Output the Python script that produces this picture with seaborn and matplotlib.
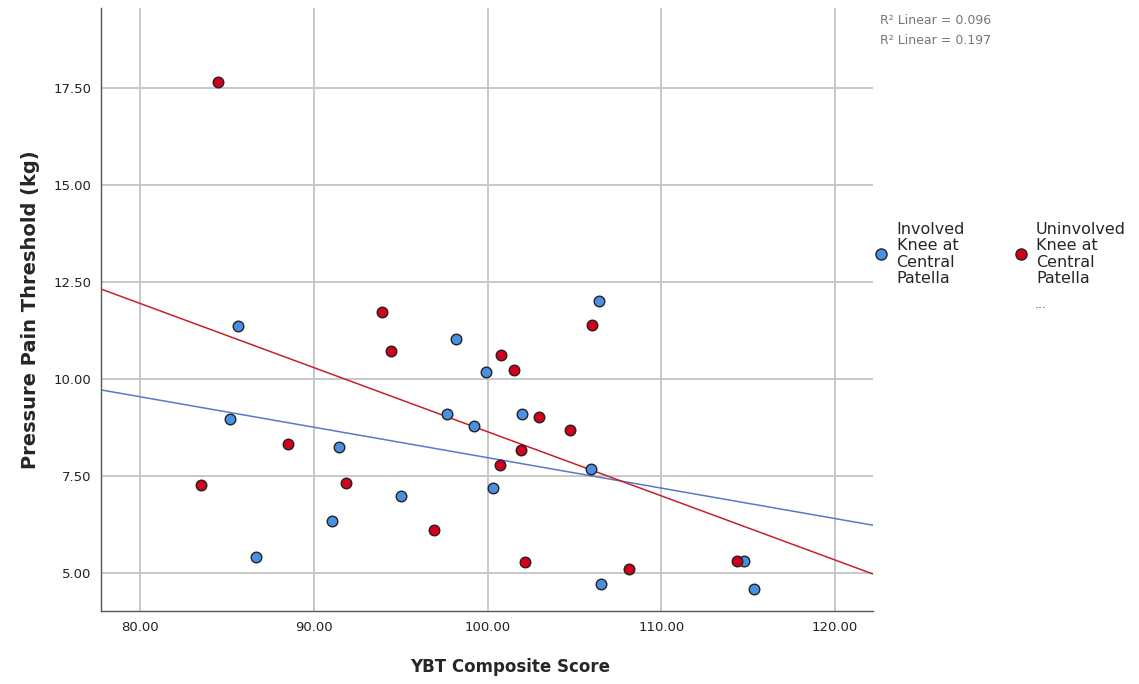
import numpy as np
import pandas as pd
import matplotlib
matplotlib.use('Agg')
import matplotlib.pyplot as plt
import seaborn as sns
from matplotlib.lines import Line2D

# YBT composite score vs pressure pain threshold
involved_ybt = [85.63, 85.17, 86.67, 91.44, 91.03, 95.0, 98.2, 97.64, 99.2, 99.94,
                100.34, 101.98, 105.98, 106.44, 106.55, 114.75, 115.34]
involved_ppt = [11.37, 8.97, 5.41, 8.25, 6.34, 6.98, 11.03, 9.09, 8.79, 10.18,
                7.19, 9.09, 7.68, 12.0, 4.72, 5.31, 4.59]

uninvolved_ybt = [84.48, 83.5, 88.5, 91.84, 93.9, 94.43, 96.9, 100.75, 101.55, 100.71,
                  101.9, 102.99, 102.13, 104.75, 106.03, 108.15, 114.35]
uninvolved_ppt = [17.65, 7.27, 8.32, 7.32, 11.73, 10.72, 6.11, 10.62, 10.23, 7.78,
                  8.17, 9.02, 5.28, 8.69, 11.39, 5.10, 5.31]

r2_labels = ["R\u00b2 Linear = 0.096", "R\u00b2 Linear = 0.197"]
group_labels = ["Involved\nKnee at\nCentral\nPatella", "Uninvolved\nKnee at\nCentral\nPatella"]
x_ticks = [80, 90, 100, 110, 120]
y_ticks = [5.0, 7.5, 10.0, 12.5, 15.0, 17.5]

blue_fill = "#4a90e2"
red_fill = "#d0021b"
blue_line = "#5a78c8"
red_line = "#c8202a"

sns.set_style("white")
plt.rcParams['font.family'] = ['DejaVu Sans']

fig = plt.figure(figsize=(11.39, 6.84), dpi=100)
ax = fig.add_axes([101 / 1139, 1 - 611 / 684, 772 / 1139, 603 / 684])

xlim = (77.76, 122.18)
ylim = (4.02, 19.56)
ax.set_xlim(*xlim)
ax.set_ylim(*ylim)

# fit lines across the whole x range (SPSS style)
sns.regplot(x=involved_ybt, y=involved_ppt, ax=ax, ci=None, truncate=False,
            scatter=False, line_kws=dict(color=blue_line, lw=1.1, zorder=2))
sns.regplot(x=uninvolved_ybt, y=uninvolved_ppt, ax=ax, ci=None, truncate=False,
            scatter=False, line_kws=dict(color=red_line, lw=1.1, zorder=2))

sns.scatterplot(x=involved_ybt, y=involved_ppt, ax=ax, color=blue_fill, s=58,
                edgecolor="#222222", linewidth=1.0, zorder=3)
sns.scatterplot(x=uninvolved_ybt, y=uninvolved_ppt, ax=ax, color=red_fill, s=58,
                edgecolor="#222222", linewidth=1.0, zorder=3)

ax.set_xlim(*xlim)
ax.set_ylim(*ylim)
ax.set_xticks(x_ticks)
ax.set_xticklabels([f"{v:.2f}" for v in x_ticks])
ax.set_yticks(y_ticks)
ax.set_yticklabels([f"{v:.2f}" for v in y_ticks])
ax.tick_params(axis='both', length=0, labelsize=9.5, colors="#222222", pad=7)

ax.grid(True, color="#c8c8c8", lw=1.4, zorder=0)
ax.set_axisbelow(True)
for side in ["top", "right"]:
    ax.spines[side].set_visible(False)
for side in ["left", "bottom"]:
    ax.spines[side].set_color("#555555")
    ax.spines[side].set_linewidth(1.0)

ax.set_xlabel("YBT Composite Score", fontsize=12, fontweight="bold", va="center")
ax.xaxis.set_label_coords((510 - 101) / 772, -(667 - 611) / 603)
ax.set_ylabel("Pressure Pain Threshold (kg)", fontsize=14, fontweight="bold", va="center")
ax.yaxis.set_label_coords(-(101 - 30) / 772, 0.5)

# R² annotations top right
fig.text(880 / 1139, 1 - 20 / 684, r2_labels[0], fontsize=9, color="#777777", va="center")
fig.text(880 / 1139, 1 - 40 / 684, r2_labels[1], fontsize=9, color="#777777", va="center")

# legend outside to the right
handles = [Line2D([], [], ls="", marker="o", markersize=8, markerfacecolor=blue_fill,
                  markeredgecolor="#222222"),
           Line2D([], [], ls="", marker="o", markersize=8, markerfacecolor=red_fill,
                  markeredgecolor="#222222")]
leg = fig.legend(handles, group_labels, loc="center left", ncol=2,
                 bbox_to_anchor=(859 / 1139, 1 - 254 / 684), frameon=False,
                 fontsize=11.5, handletextpad=0.45, columnspacing=3.0,
                 labelspacing=0.2, handlelength=1.0)
for t in leg.get_texts():
    t.set_linespacing(1.1)
fig.text(1035 / 1139, 1 - 305 / 684, "...", fontsize=9, color="#555555", va="center")

fig.savefig("out.png", dpi=100)
